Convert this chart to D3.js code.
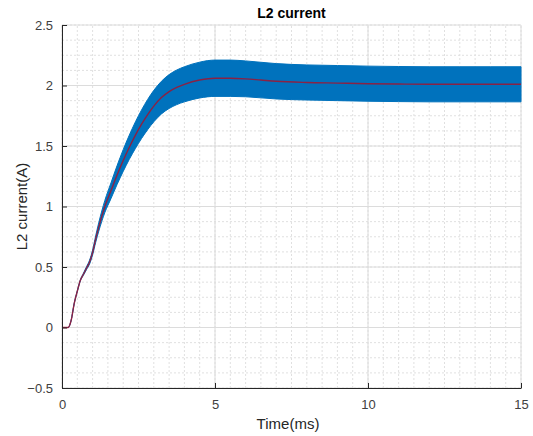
<!DOCTYPE html>
<html>
<head>
<meta charset="utf-8">
<script src="https://cdn.jsdelivr.net/npm/d3@7"></script>
<style>
  body { margin: 0; background: #ffffff; }
  text { font-family: "Liberation Sans", Arial, Helvetica, sans-serif; }
</style>
</head>
<body>
<div class="canvas"></div>
<script>
// time axis (ms)
const timeMs = [0, 0.2, 0.3, 0.4, 0.5, 0.6, 0.7, 0.8, 0.9, 1.0, 1.1, 1.2, 1.4, 1.6, 1.8, 2.0, 2.2, 2.4, 2.6, 2.8, 3.0, 3.25, 3.5, 3.75, 4.0, 4.5, 5.0, 5.5, 6.0, 6.5, 7, 8, 9, 10, 11, 12, 13, 14, 15];
// averaged current (red line)
const meanCurrent = [0, 0, 0.06, 0.2, 0.3, 0.39, 0.44, 0.49, 0.54, 0.62, 0.73, 0.83, 1.0, 1.13, 1.26, 1.38, 1.49, 1.59, 1.68, 1.76, 1.83, 1.9, 1.95, 1.985, 2.01, 2.045, 2.06, 2.06, 2.055, 2.045, 2.035, 2.025, 2.02, 2.015, 2.012, 2.01, 2.01, 2.01, 2.01];
// ripple envelope of the raw current (blue band)
const rippleTop = [0, 0, 0.06, 0.2, 0.303, 0.395, 0.448, 0.502, 0.556, 0.64, 0.757, 0.865, 1.05, 1.195, 1.338, 1.47, 1.59, 1.7, 1.798, 1.885, 1.96, 2.035, 2.09, 2.128, 2.155, 2.193, 2.21, 2.21, 2.203, 2.192, 2.181, 2.17, 2.165, 2.16, 2.157, 2.155, 2.155, 2.155, 2.155];
const rippleBottom = [0, 0, 0.06, 0.2, 0.297, 0.385, 0.432, 0.478, 0.524, 0.6, 0.703, 0.795, 0.95, 1.065, 1.182, 1.29, 1.39, 1.48, 1.562, 1.635, 1.7, 1.765, 1.81, 1.842, 1.865, 1.897, 1.91, 1.91, 1.907, 1.898, 1.889, 1.88, 1.875, 1.87, 1.867, 1.865, 1.865, 1.865, 1.865];

const xTicks = [0, 5, 10, 15];
const yTicks = [-0.5, 0, 0.5, 1, 1.5, 2, 2.5];
const xMinor = d3.range(0, 15.01, 0.5);
const yMinor = d3.range(-0.5, 2.501, 0.125);

const W = 533;
const H = 436;
const m = { left: 62, right: 12, top: 25, bottom: 48 };

const svg = d3.select(".canvas").
append("svg").
attr("width", W).
attr("height", H);

const x = d3.scaleLinear([0, 15], [m.left, W - m.right]);
const y = d3.scaleLinear([-0.5, 2.5], [H - m.bottom, m.top]);

// minor grid (dotted)
const grid = svg.append("g");
grid.selectAll(".xm").data(xMinor).join("line").
attr("class", "xm").
attr("x1", d => x(d)).attr("x2", d => x(d)).
attr("y1", y(-0.5)).attr("y2", y(2.5)).
attr("stroke", "#e0e0e0").attr("stroke-dasharray", "2,2");
grid.selectAll(".ym").data(yMinor).join("line").
attr("class", "ym").
attr("y1", d => y(d)).attr("y2", d => y(d)).
attr("x1", x(0)).attr("x2", x(15)).
attr("stroke", "#e0e0e0").attr("stroke-dasharray", "2,2");

// major grid
grid.selectAll(".xg").data(xTicks).join("line").
attr("class", "xg").
attr("x1", d => x(d)).attr("x2", d => x(d)).
attr("y1", y(-0.5)).attr("y2", y(2.5)).
attr("stroke", "#dcdcdc");
grid.selectAll(".yg").data(yTicks).join("line").
attr("class", "yg").
attr("y1", d => y(d)).attr("y2", d => y(d)).
attr("x1", x(0)).attr("x2", x(15)).
attr("stroke", "#dcdcdc");

// blue ripple band
const band = d3.area().
x((d, i) => x(timeMs[i])).
y0((d, i) => y(rippleBottom[i])).
y1((d, i) => y(rippleTop[i])).
curve(d3.curveMonotoneX);

svg.append("path").
datum(timeMs).
attr("d", band).
attr("fill", "#0072BD").
attr("stroke", "#0072BD").
attr("stroke-width", 1);

// red averaged line
const line = d3.line().
x((d, i) => x(timeMs[i])).
y(d => y(d)).
curve(d3.curveMonotoneX);

svg.append("path").
datum(meanCurrent).
attr("d", line).
attr("fill", "none").
attr("stroke", "#A2142F").
attr("stroke-opacity", 0.85).
attr("stroke-width", 1.4);

// axes, ticks inside
const xAxis = svg.append("g").
attr("transform", `translate(0, ${y(-0.5)})`).
call(d3.axisBottom(x).tickValues(xTicks).tickSizeInner(-5).tickSizeOuter(0).tickPadding(12));
const yAxis = svg.append("g").
attr("transform", `translate(${x(0)}, 0)`).
call(d3.axisLeft(y).tickValues(yTicks).tickSizeInner(-5).tickSizeOuter(0).tickPadding(9).tickFormat(d3.format("")));

[xAxis, yAxis].forEach(a => {
  a.select(".domain").attr("stroke", "#262626");
  a.selectAll(".tick line").attr("stroke", "#262626");
  a.selectAll(".tick text").
  attr("fill", "#404040").
  style("font-size", "13px").
  style("font-family", "'Liberation Sans', Arial, sans-serif");
});

svg.append("text").
attr("x", (x(0) + x(15)) / 2).
attr("y", 18).
attr("text-anchor", "middle").
style("font-size", "14px").
style("font-weight", "bold").
attr("fill", "#000").
text("L2 current");

svg.append("text").
attr("x", 288).
attr("y", 429).
attr("text-anchor", "middle").
style("font-size", "15px").
attr("fill", "#262626").
text("Time(ms)");

svg.append("text").
attr("transform", `translate(27, ${(y(-0.5) + y(2.5)) / 2}) rotate(-90)`).
attr("text-anchor", "middle").
style("font-size", "15px").
attr("fill", "#262626").
text("L2 current(A)");
</script>
</body>
</html>
